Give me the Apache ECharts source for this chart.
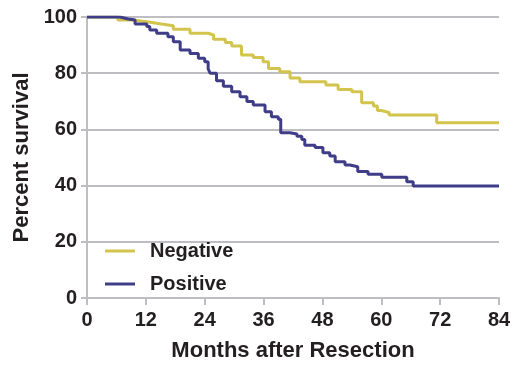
<html style="height: 100%">
<head>
<meta charset="utf-8">
</head>
<body style="height: 100%; margin: 0; background: #fff">
	<div id="container" style="width: 514px; height: 366px"></div>

	<script src="https://cdn.jsdelivr.net/npm/echarts@6/dist/echarts.min.js"></script>
	<script type="text/javascript">
		var dom = document.getElementById("container");
		var myChart = echarts.init(dom);

		var seriesNames = ['Negative', 'Positive'];
		var xTicks = [0, 12, 24, 36, 48, 60, 72, 84];
		var yTicks = [0, 20, 40, 60, 80, 100];

		// 阴性组 (月, 生存率%)
		var negMonths = [0, 6.3, 9.4, 12.5, 15.2, 17.6, 21, 24.7, 25.8, 28.2, 29.5, 31.5, 33.9, 35.9, 37, 39.3, 41.4, 43.4,
			48.7, 51.2, 54, 56, 58.4, 59.2, 60, 61.6, 71.3, 84];
		var negSurv = [100, 98.9, 98.2, 97.5, 96.9, 95.6, 94.2, 93.6, 92.1, 90.9, 89.7, 86.5, 85.6, 84.1, 81.7, 80.5, 78.3, 77,
			75.8, 74.2, 73.4, 69.5, 68.3, 66.7, 66, 65.1, 62.4, 62.4];

		// 阳性组
		var posMonths = [0, 6.7, 8.4, 9.8, 12.2, 12.8, 14.2, 16.5, 17.6, 19, 21, 22.7, 24, 24.7, 25.1, 26.4, 27.8, 29.5, 31.2,
			32.6, 33.9, 36.3, 37.6, 39, 39.5, 41.4, 42.8, 43.8, 44.4, 46.5, 48.1, 49.5, 50.6, 52.6, 53.6, 55.2, 57.3, 60.1,
			65.2, 66.5, 84];
		var posSurv = [100, 99.3, 98.9, 97.5, 96.6, 95.4, 94.2, 93, 91.2, 88.3, 87, 85.3, 84.1, 81.5, 80, 77.3, 75.4, 73.4, 71.6,
			69.9, 68.7, 66.3, 64.5, 63.6, 58.8, 58.4, 57.6, 56.4, 54.4, 53.6, 51.7, 50.5, 48.5, 47.3, 46.7, 45, 44, 43,
			41.4, 39.9, 39.9];

		function pairs(xs, ys) {
			var arr = [];
			for (var i = 0; i < xs.length; i++) {
				arr.push([xs[i], ys[i]]);
			}
			return arr;
		}

		var font = 'Liberation Sans, Arial, sans-serif';
		var gray = '#bdbdc2';

		var option = {
			animation: false,
			color: ['#d2c44c', '#3f3c88'],
			grid: { left: 87, right: 15, top: 17, bottom: 68, outerBoundsMode: 'none' },
			legend: {
				data: seriesNames,
				orient: 'vertical',
				left: 100,
				top: 236,
				icon: 'rect',
				itemWidth: 30,
				itemHeight: 3,
				itemGap: 13,
				textStyle: { fontFamily: font, fontSize: 20, fontWeight: 'bold', color: '#231f20', padding: [0, 0, 0, 10] }
			},
			xAxis: {
				type: 'value',
				min: xTicks[0],
				max: xTicks[xTicks.length - 1],
				interval: 12,
				name: 'Months after Resection',
				nameLocation: 'middle',
				nameGap: 42,
				nameTextStyle: { fontFamily: font, fontSize: 22, fontWeight: 'bold', color: '#231f20' },
				axisLine: { lineStyle: { color: gray, width: 2 } },
				axisTick: { show: true, length: 7, lineStyle: { color: gray, width: 2 } },
				axisLabel: { margin: 12, fontFamily: font, fontSize: 20, fontWeight: 'bold', color: '#231f20' },
				splitLine: { show: false }
			},
			yAxis: {
				type: 'value',
				min: yTicks[0],
				max: yTicks[yTicks.length - 1],
				interval: 20,
				name: 'Percent survival',
				nameLocation: 'middle',
				nameGap: 48,
				nameTextStyle: { fontFamily: font, fontSize: 22, fontWeight: 'bold', color: '#231f20' },
				axisLine: { show: true, lineStyle: { color: gray, width: 2 } },
				axisTick: { show: true, length: 6, lineStyle: { color: gray, width: 2 } },
				axisLabel: { margin: 10, fontFamily: font, fontSize: 20, fontWeight: 'bold', color: '#231f20' },
				splitLine: { show: true, lineStyle: { color: gray, width: 2 } }
			},
			series: [{
				name: seriesNames[0],
				type: 'line',
				step: 'end',
				showSymbol: false,
				lineStyle: { width: 3 },
				data: pairs(negMonths, negSurv)
			}, {
				name: seriesNames[1],
				type: 'line',
				step: 'end',
				showSymbol: false,
				lineStyle: { width: 3 },
				data: pairs(posMonths, posSurv)
			}]
		};

		myChart.setOption(option);
	</script>
</body>
</html>
